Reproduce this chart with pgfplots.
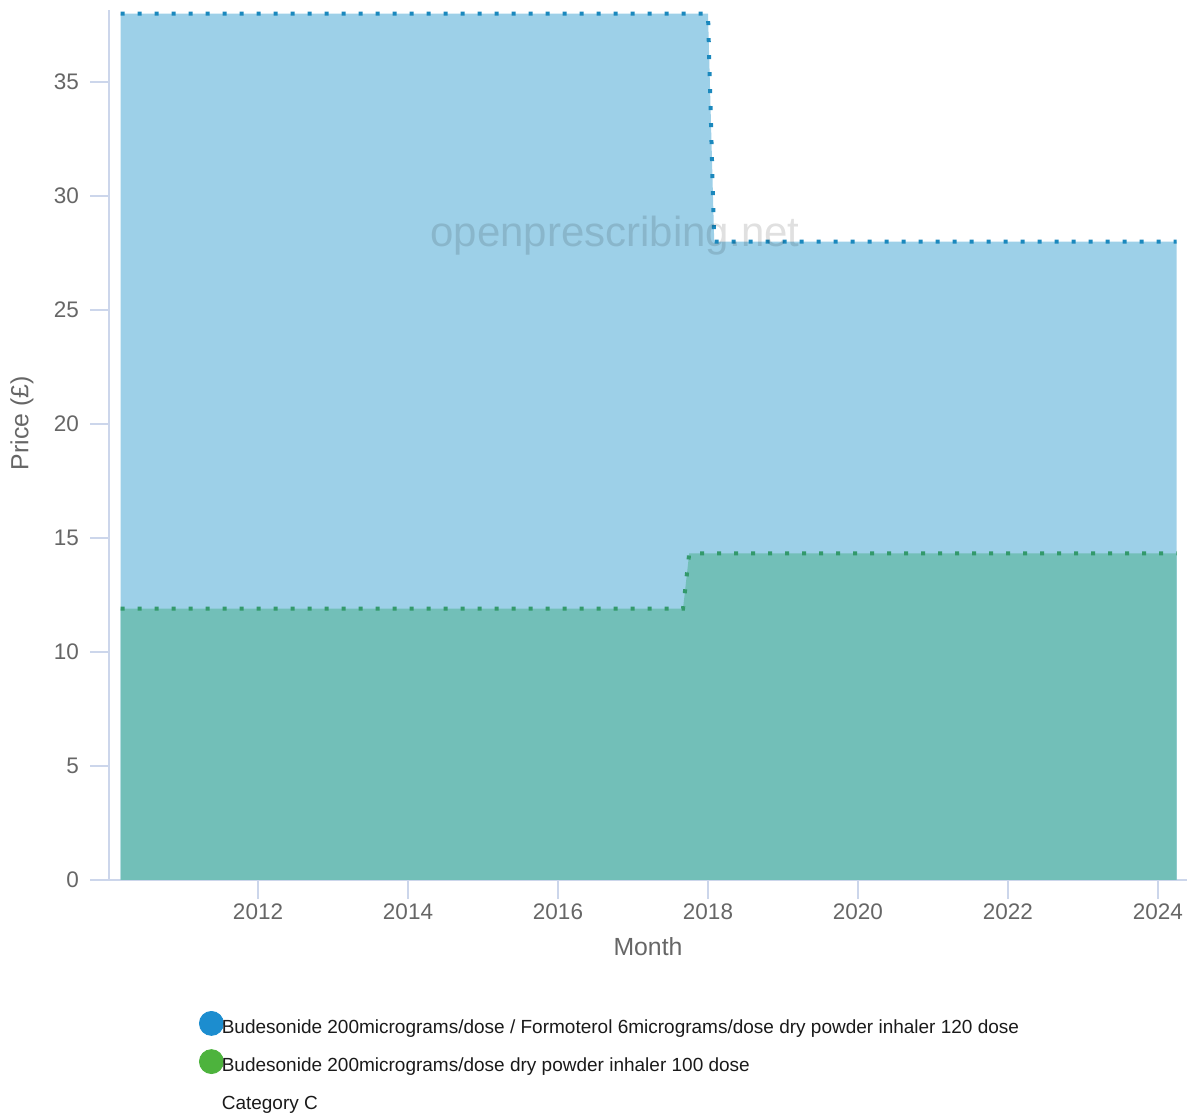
\documentclass[border=0pt]{standalone}
\usepackage{fontspec}
\setmainfont{Liberation Sans}
\usepackage{pgfplots}
\pgfplotsset{compat=1.18}
\definecolor{bluefill}{HTML}{9DD0E8}
\definecolor{greenfill}{HTML}{72BFB8}
\definecolor{bluedot}{HTML}{1B88BD}
\definecolor{greendot}{HTML}{33996B}
\definecolor{legblue}{HTML}{1C8DCF}
\definecolor{leggreen}{HTML}{4DB33D}
\definecolor{axisc}{HTML}{CCD6EB}
\definecolor{labc}{HTML}{666666}
\definecolor{legc}{HTML}{1A1A1A}
\begin{document}
\begin{tikzpicture}
\begin{axis}[
  at={(54.5pt,116.5pt)}, anchor=south west,
  scale only axis, width=539pt, height=435pt,
  xmin=2010.013, xmax=2024.387, ymin=0, ymax=38.16,
  axis x line=bottom, axis y line=left,
  axis line style={-, draw=axisc, line width=0.75pt},
  xtick={2012,2014,2016,2018,2020,2022,2024},
  xticklabels={2012,2014,2016,2018,2020,2022,2024},
  ytick={0,5,10,15,20,25,30,35},
  tick align=outside, major tick length=9.5pt,
  tick style={draw=axisc, line width=0.6pt},
  /pgf/number format/assume math mode=true,
  ticklabel style={font=\fontsize{11.25}{13}\selectfont, text=labc},
  xticklabel style={yshift=1pt},
  yticklabel style={xshift=-2pt},
  xlabel={Month}, ylabel={Price (£)},
  label style={font=\fontsize{12.4}{14}\selectfont, text=labc},
  xlabel style={at={(axis description cs:0.5,-0.077)}, anchor=center},
  ylabel style={at={(axis description cs:-0.0807,0.525)}, anchor=center},
  legend style={at={(axis description cs:0.0835,-0.1506)}, anchor=north west,
    draw=none, fill=none, inner sep=0pt, outer sep=0pt,
    font=\fontsize{9.5}{11}\selectfont, text=legc,
    nodes={inner sep=0pt, text height=11pt, text depth=2pt},
    row sep=6pt, column sep=-1pt},
  legend cell align=left,
]
\addplot[fill=bluefill, draw=none, forget plot] coordinates {
 (2010.167,38.0) (2018.0,38.0) (2018.083,28.0) (2024.25,28.0)} \closedcycle;
\addplot[bluedot, line width=2pt, dash pattern=on 2pt off 6.5pt, forget plot] coordinates {
 (2010.167,38.0) (2018.0,38.0) (2018.083,28.0) (2024.25,28.0)};
\addplot[fill=greenfill, draw=none, forget plot] coordinates {
 (2010.167,11.9) (2017.667,11.9) (2017.75,14.33) (2024.25,14.33)} \closedcycle;
\addplot[greendot, line width=2pt, dash pattern=on 2pt off 6.5pt, forget plot] coordinates {
 (2010.167,11.9) (2017.667,11.9) (2017.75,14.33) (2024.25,14.33)};
\node[opacity=0.12, font=\fontsize{21}{25}\selectfont] at (axis cs:2016.76,28.25) {openprescribing.net};
\addlegendimage{legend image code/.code={\fill[legblue] (5.75pt,0.4pt) circle (6pt);}}
\addlegendentry{Budesonide 200micrograms/dose / Formoterol 6micrograms/dose dry powder inhaler 120 dose}
\addlegendimage{legend image code/.code={\fill[leggreen] (5.75pt,0.4pt) circle (6pt);}}
\addlegendentry{Budesonide 200micrograms/dose dry powder inhaler 100 dose}
\addlegendimage{empty legend}
\addlegendentry{Category C}
\end{axis}
\pgfresetboundingbox
\path[use as bounding box] (0,0) rectangle (598pt,556.5pt);
\end{tikzpicture}
\end{document}
